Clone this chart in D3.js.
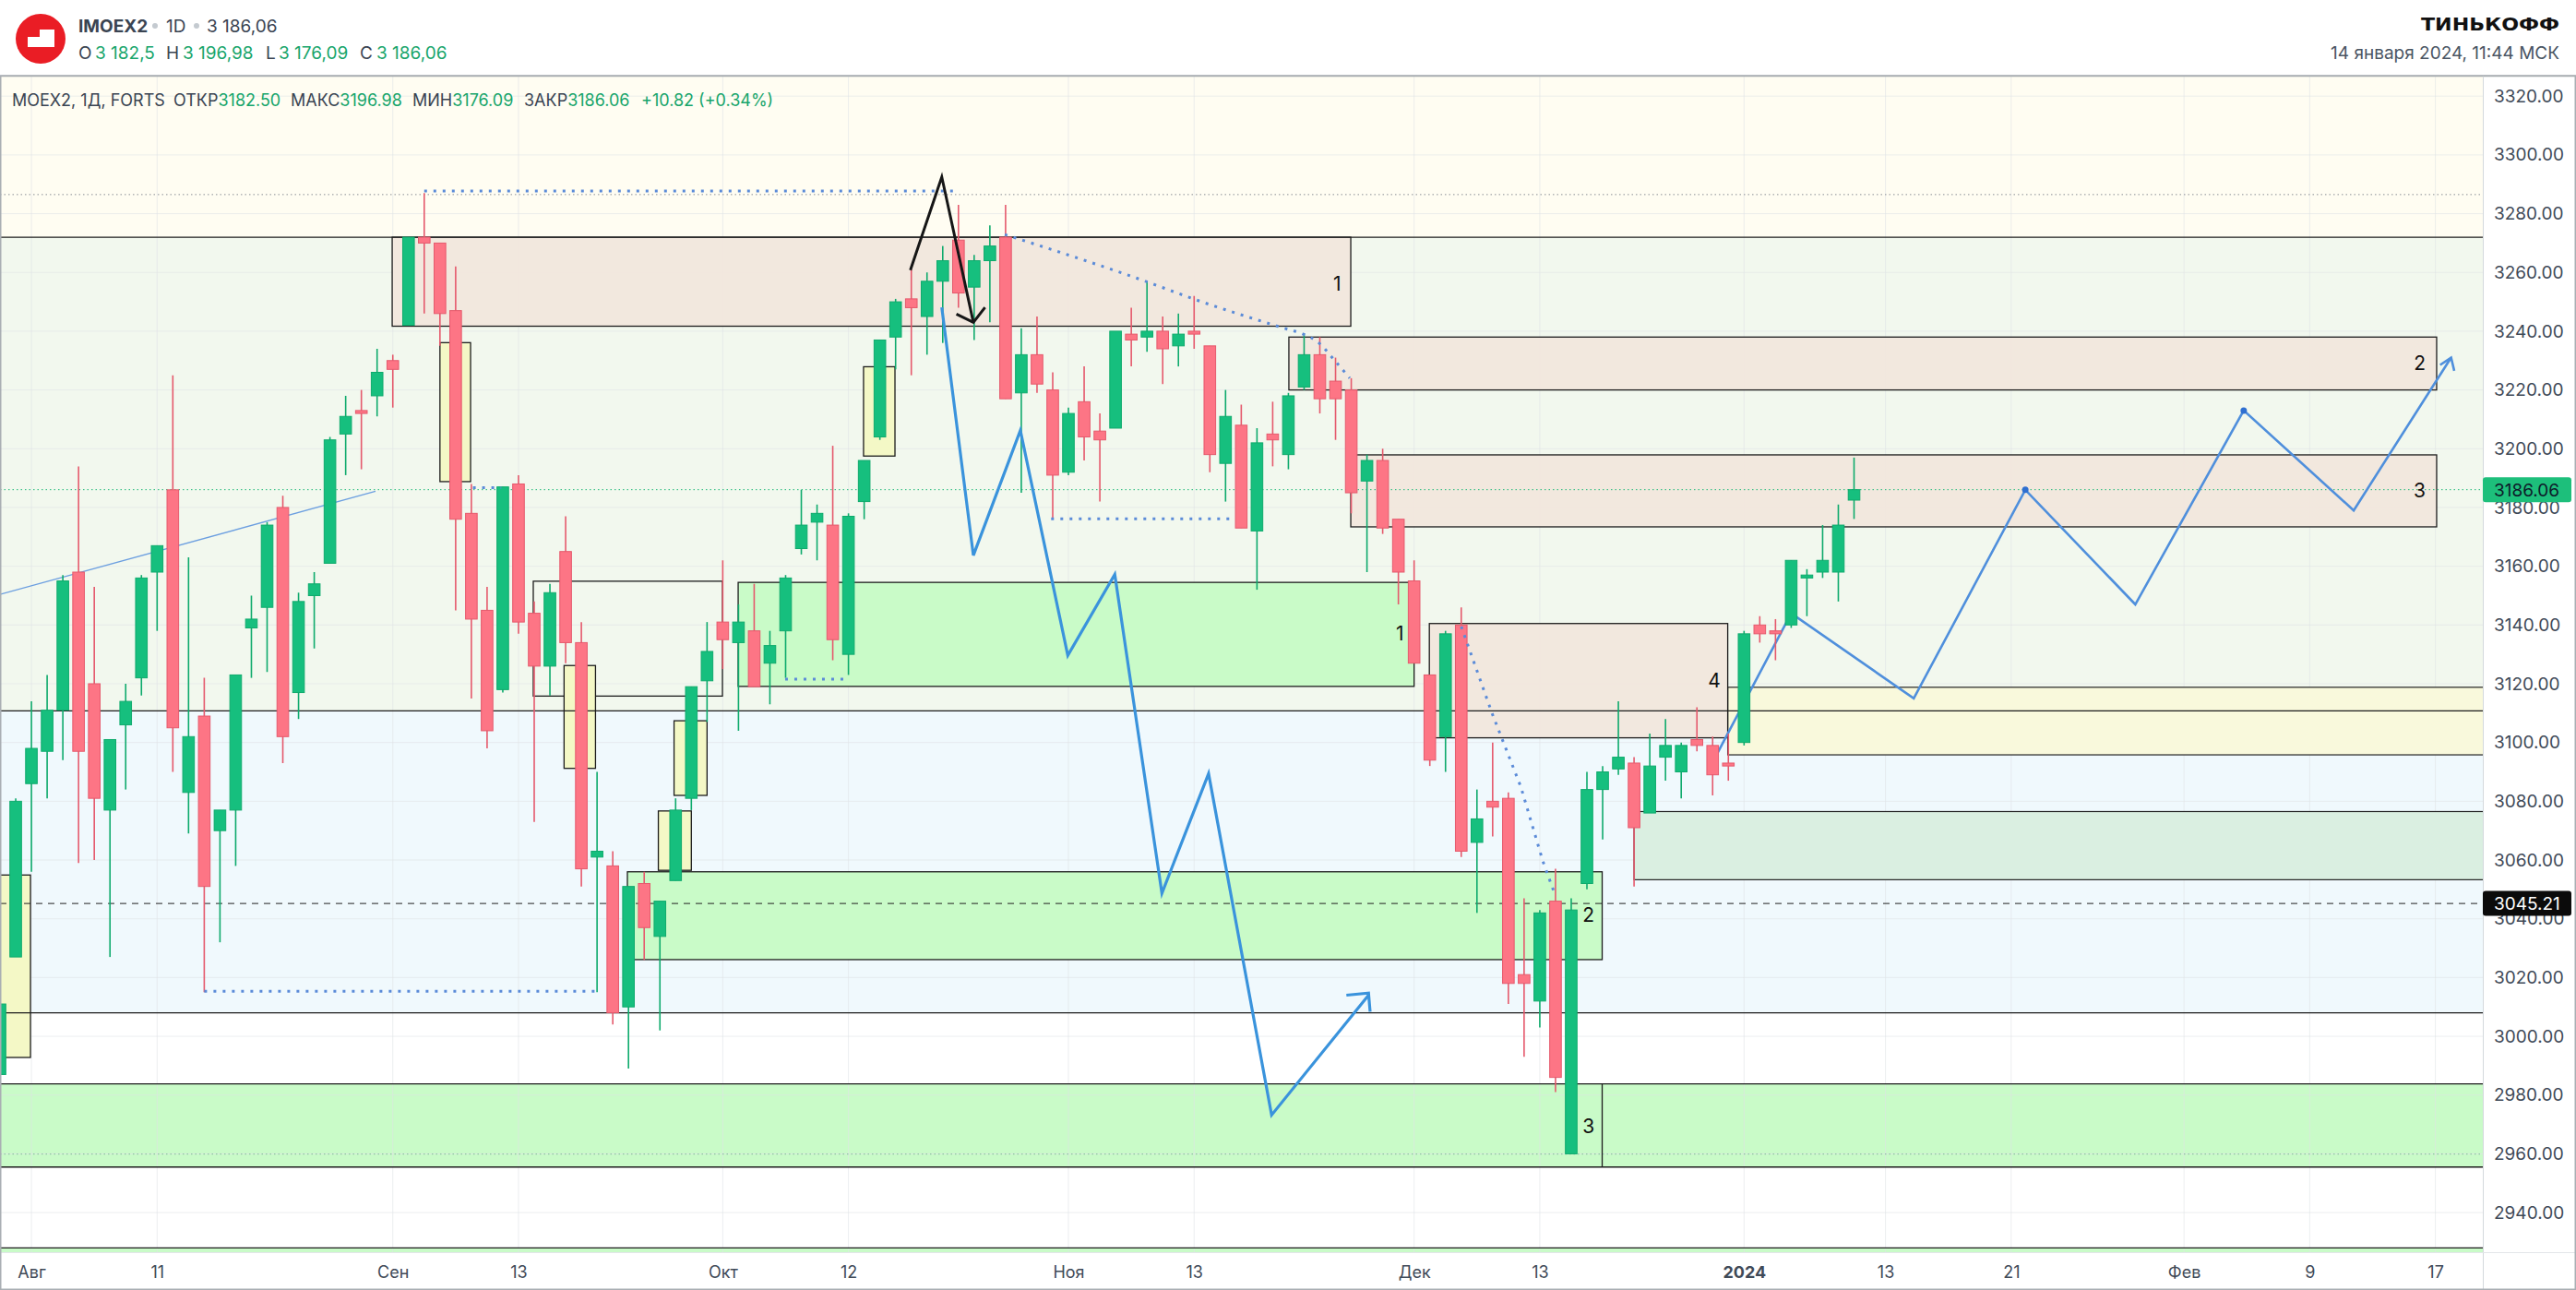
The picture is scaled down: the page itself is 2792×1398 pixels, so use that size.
<!DOCTYPE html>
<html>
<head>
<meta charset="utf-8">
<title>IMOEX2 1D</title>
<script src="https://d3js.org/d3.v7.min.js"></script>
<style>
  body { margin: 0; background: #fff; }
  svg text { font-family: Inter, "Noto Sans", sans-serif; }
</style>
</head>
<body>
<svg id="chart"></svg>
<script>
// daily candles, index 0 = 28 Jul 2023 ... 118 = 12 Jan 2024
const opens = [2987,3027,3086,3097,3111,3158,3120,3077,3106,3122,3158,3186,3083,3109,3070,3077,3139,3146,3180,3117,
  3150,3161,3205,3213,3218,3230,3242,3272,3270,3247,3178,3145,3118,3188,3144,3126,3165,3134,3061,3058,
  3010,3052,3034,3053,3081,3121,3141,3134,3138,3127,3138,3166,3175,3174,3130,3182,3204,3238,3251,3245,
  3257,3271,3255,3264,3272,3219,3232,3220,3192,3216,3206,3207,3239,3238,3240,3235,3240,3235,3195,3208,
  3172,3205,3198,3221,3232,3223,3220,3189,3196,3176,3155,3123,3102,3140,3066,3080,3081,3021,3012,3046,
  2960,3052,3084,3091,3093,3076,3095,3090,3101,3099,3093,3100,3140,3138,3140,3156,3158,3158,3182.5];
const highs = [3013,3081,3114,3123,3157,3194,3153,3101,3120,3157,3167,3225,3163,3122,3077,3123,3150,3175,3184,3151,
  3158,3204,3218,3220,3234,3232,3272,3287,3270,3262,3188,3153,3187,3191,3148,3154,3177,3141,3090,3063,
  3051,3056,3046,3081,3119,3141,3162,3147,3154,3138,3157,3186,3181,3201,3178,3196,3237,3251,3261,3260,
  3269,3283,3266,3276,3283,3241,3245,3226,3214,3228,3212,3240,3248,3257,3245,3246,3252,3235,3220,3215,
  3207,3216,3219,3239,3238,3231,3224,3198,3200,3176,3162,3123,3138,3146,3084,3100,3083,3047,3043,3057,
  3047,3090,3092,3114,3095,3103,3108,3100,3112,3102,3103,3138,3143,3142,3162,3159,3174,3181,3196.98];
const lows = [2984,3027,3056,3081,3094,3059,3060,3027,3084,3116,3138,3090,3069,3015,3032,3058,3122,3124,3093,3108,
  3132,3161,3191,3193,3211,3214,3242,3246,3235,3145,3115,3098,3117,3137,3073,3116,3127,3051,3015,3004,
  2989,3026,3002,3053,3077,3107,3125,3104,3119,3113,3122,3164,3162,3128,3123,3176,3203,3227,3225,3232,
  3236,3248,3237,3243,3217,3185,3219,3176,3191,3196,3182,3207,3228,3233,3222,3228,3234,3192,3182,3173,
  3152,3194,3193,3220,3212,3203,3178,3158,3171,3147,3127,3092,3090,3061,3042,3068,3011,2993,3003,2981,
  2960,3050,3067,3089,3051,3076,3087,3081,3097,3082,3087,3099,3134,3128,3139,3143,3156,3148,3176.09];
const closes = [3011,3080,3098,3111,3155,3097,3081,3101,3114,3156,3167,3105,3102,3051,3077,3123,3142,3174,3102,3148,
  3154,3203,3211,3212,3226,3227,3272,3270,3246,3176,3142,3104,3187,3141,3126,3151,3134,3057,3063,3008,
  3051,3037,3046,3077,3119,3131,3135,3141,3119,3133,3156,3174,3178,3135,3177,3196,3237,3250,3248,3257,
  3264,3253,3264,3269,3217,3232,3222,3191,3212,3204,3203,3240,3237,3240,3234,3239,3239,3198,3211,3173,
  3202,3203,3218,3232,3217,3217,3185,3196,3173,3158,3127,3094,3137,3063,3074,3078,3018,3018,3042,2986,
  3043,3084,3090,3095,3071,3092,3099,3099,3099,3089,3092,3137,3137,3137,3162,3157,3162,3174,3186.06];

// axes
const priceTicks = d3.range(2940, 3321, 20);
const timeTickIdx = [2, 10, 25, 33, 46, 54, 68, 76, 90, 98, 111, 120, 128, 139, 147, 155];
const timeTickLabels = ["Авг","11","Сен","13","Окт","12","Ноя","13","Дек","13","2024","13","21","Фев","9","17"];

// zones: background bands across the whole chart [top, bottom, kind]
const bands = [[3340, 3272, "cream"], [3272, 3110.8, "mint"], [3110.8, 3008, "sky"],
  [3008, 2983.8, "white"], [2983.8, 2955.5, "green"], [2955.5, 2928, "white"], [2928, 2900, "green"]];
const levelLines = [3272, 3110.8, 3008, 2983.8, 2955.5, 2928];
// boxes [idxFrom, idxTo, top, bottom, kind]
const boxes = [
  [24.96, 85.97, 3272, 3241.7, "pink"],
  [82.03, 155.08, 3238, 3220, "pink"],
  [85.97, 155.08, 3197.9, 3173.4, "pink"],
  [46.98, 90.0, 3154.5, 3119.1, "green"],
  [39.93, 101.97, 3056, 3026.1, "green"],
  [90.97, 109.96, 3140.5, 3101.6, "pink"],
  [33.94, 45.98, 3154.9, 3115.8, "open"],
  [-1, 1.94, 3054.9, 2992.8, "yellow"],
  [28.0, 29.95, 3236.1, 3188.8, "yellow"],
  [35.9, 37.9, 3126.2, 3091.2, "yellow"],
  [41.9, 44.0, 3076.7, 3056.5, "yellow"],
  [42.9, 45.0, 3107.4, 3082.0, "yellow"],
  [54.96, 56.96, 3227.9, 3197.5, "yellow"]
];
const rightBands = [[109.96, 160, 3118.8, 3095.8, "paleYellow"], [104.0, 160, 3076.5, 3053.3, "sage"]];
const zoneLabels = [[85.1, 3256, "1"], [154.0, 3229, "2"], [154.0, 3185.6, "3"], [89.1, 3136.8, "1"],
  [101.1, 3041.1, "2"], [101.1, 2969.3, "3"], [109.1, 3120.9, "4"]];

// drawings
const trendLine = [[0, 3150.4], [23.9, 3185.5]];
const dottedLevels = [[27, 60.9, 3287.7], [13, 37.9, 3015.3], [30.1, 31.9, 3186.7], [49.97, 53.9, 3121.6], [66.9, 78.3, 3176.1]];
const dottedSlope1 = [[63.95, 3272.9], [73.0, 3256.8], [75.9, 3251.1], [81.6, 3241.2], [83.0, 3238.9], [83.8, 3236.6], [85.0, 3229.7], [85.9, 3224]];
const dottedSlope2 = [[93.0, 3139.5], [94.95, 3110.1], [96.8, 3084.8], [98.2, 3059.5], [98.9, 3049.2]];
const blackPeak = [[57.94, 3260.8], [59.94, 3292.5], [61.95, 3243.0]];
const blackHead = [[60.87, 3245.8], [61.95, 3243.0], [62.69, 3248.1]];
const zigzagDown = [[59.94, 3248.1], [61.95, 3163.7], [64.94, 3206.2], [67.96, 3129.6], [70.95, 3157.2],
  [73.95, 3048.7], [76.92, 3089.4], [80.93, 2973.2], [87.1, 3014.0]];
const zigzagDownHead = [[85.69, 3014], [87.1, 3014.7], [87.2, 3008.4]];
const projection = [[109.3, 3096.3], [114, 3144], [121.8, 3115], [128.9, 3186], [135.9, 3147],
  [142.8, 3213], [149.8, 3179], [156.0, 3231]];
const projectionDots = [[128.9, 3186], [142.8, 3213]];
const projectionHead = [[155.3, 3228.5], [156.0, 3231], [156.2, 3226.5]];

const lastPrice = 3186.06, markPrice = 3045.21;

const fills = {cream: "#fffdf2", mint: "#f2f8ee", sky: "#f0f9fd", white: "#ffffff", green: "#c9fbc8",
  pink: "#f2e6dc", yellow: "#f4f8c6", open: "none", paleYellow: "#f9f9dc", sage: "#daefe1"};
const up = "#16bf7e", upEdge = "#0eaa6c", down = "#fd7585", downEdge = "#e5596c";
const textColor = "#3a4452", valColor = "#17a56b";

const W = 2792, H = 1398;
const plotRight = 2691, plotTop = 82, plotBottom = 1357;

const svg = d3.select("#chart").attr("width", W).attr("height", H);
svg.append("rect").attr("width", W).attr("height", H).attr("fill", "#fff");

const x = d3.scaleLinear().domain([0, 158]).range([0, 2690.7]);
const y = d3.scaleLinear().domain([3320, 2940]).range([104.2, 1314.1]);

svg.append("clipPath").attr("id", "plot")
  .append("rect").attr("x", 0).attr("y", plotTop).attr("width", plotRight).attr("height", plotBottom - plotTop);
const g = svg.append("g").attr("clip-path", "url(#plot)");

// background bands
g.selectAll("rect.band").data(bands).join("rect")
  .attr("x", 0).attr("width", plotRight)
  .attr("y", d => y(d[0])).attr("height", d => y(d[1]) - y(d[0]))
  .attr("fill", d => fills[d[2]]);

// grid
g.selectAll("line.hgrid").data(priceTicks).join("line")
  .attr("x1", 0).attr("x2", plotRight).attr("y1", d => y(d)).attr("y2", d => y(d))
  .attr("stroke", "#dfe3e6").attr("stroke-opacity", 0.6);
g.selectAll("line.vgrid").data(timeTickIdx).join("line")
  .attr("x1", d => x(d)).attr("x2", d => x(d)).attr("y1", plotTop).attr("y2", plotBottom)
  .attr("stroke", "#dfe3e6").attr("stroke-opacity", 0.6);

// right-side bands
g.selectAll("rect.rb").data(rightBands).join("rect")
  .attr("x", d => x(d[0])).attr("width", d => x(d[1]) - x(d[0]))
  .attr("y", d => y(d[2])).attr("height", d => y(d[3]) - y(d[2]))
  .attr("fill", d => fills[d[4]]).attr("stroke", "#222").attr("stroke-width", 1.2);

// boxes
g.selectAll("rect.box").data(boxes).join("rect")
  .attr("x", d => x(d[0])).attr("width", d => x(d[1]) - x(d[0]))
  .attr("y", d => y(d[2])).attr("height", d => y(d[3]) - y(d[2]))
  .attr("fill", d => fills[d[4]]).attr("fill-opacity", d => d[4] === "pink" ? 0.92 : 1)
  .attr("stroke", "#1c1c1c").attr("stroke-width", 1.3);

// zone level lines
g.selectAll("line.level").data(levelLines).join("line")
  .attr("x1", 0).attr("x2", plotRight).attr("y1", d => y(d)).attr("y2", d => y(d))
  .attr("stroke", "#1c1c1c").attr("stroke-width", 1.3);
g.append("line").attr("x1", x(101.97)).attr("x2", x(101.97)).attr("y1", y(2983.8)).attr("y2", y(2955.5))
  .attr("stroke", "#1c1c1c").attr("stroke-width", 1.3);

// thin dotted levels
g.append("line").attr("x1", 0).attr("x2", plotRight).attr("y1", y(3286.5)).attr("y2", y(3286.5))
  .attr("stroke", "#8a8f96").attr("stroke-dasharray", "1.5,3");
g.append("line").attr("x1", 0).attr("x2", plotRight).attr("y1", y(2959.9)).attr("y2", y(2959.9))
  .attr("stroke", "#7fb39a").attr("stroke-dasharray", "1.5,3");
g.append("line").attr("x1", 0).attr("x2", plotRight).attr("y1", y(lastPrice)).attr("y2", y(lastPrice))
  .attr("stroke", "#1fb877").attr("stroke-dasharray", "1.5,3");
g.append("line").attr("x1", 0).attr("x2", plotRight).attr("y1", y(markPrice)).attr("y2", y(markPrice))
  .attr("stroke", "#222").attr("stroke-dasharray", "7,6");

const line = d3.line().x(d => x(d[0])).y(d => y(d[1]));

// labels inside zones
g.selectAll("text.zl").data(zoneLabels).join("text")
  .attr("x", d => x(d[0])).attr("y", d => y(d[1]) + 7)
  .attr("text-anchor", "middle").attr("font-size", 21).attr("fill", "#111").text(d => d[2]);

// blue projection behind candles
g.append("path").attr("d", line(projection)).attr("fill", "none")
  .attr("stroke", "#4f8fdc").attr("stroke-width", 2.6);
g.append("path").attr("d", line(projectionHead)).attr("fill", "none")
  .attr("stroke", "#4f8fdc").attr("stroke-width", 2.6);
g.selectAll("circle.pd").data(projectionDots).join("circle")
  .attr("cx", d => x(d[0])).attr("cy", d => y(d[1])).attr("r", 3.5).attr("fill", "#2f6fd0");

// thin trend line
g.append("path").attr("d", line(trendLine)).attr("stroke", "#6c9fe0").attr("stroke-width", 1.4).attr("fill", "none");

// candles
const candles = opens.map((o, i) => ({i, o, h: highs[i], l: lows[i], c: closes[i]}));
const cg = g.append("g");
cg.selectAll("line").data(candles).join("line")
  .attr("x1", d => x(d.i)).attr("x2", d => x(d.i))
  .attr("y1", d => y(d.h)).attr("y2", d => y(d.l))
  .attr("stroke", d => d.c >= d.o ? upEdge : downEdge).attr("stroke-width", 1.6);
cg.selectAll("rect").data(candles).join("rect")
  .attr("x", d => x(d.i) - 6.3).attr("width", 12.6)
  .attr("y", d => y(Math.max(d.o, d.c)))
  .attr("height", d => Math.max(2.5, Math.abs(y(d.o) - y(d.c))))
  .attr("fill", d => d.c >= d.o ? up : down)
  .attr("stroke", d => d.c >= d.o ? upEdge : downEdge).attr("stroke-width", 1);

// dotted blue marks
const dotStyle = sel => sel.attr("fill", "none").attr("stroke", "#5b8bd8").attr("stroke-width", 3).attr("stroke-dasharray", "3,7");
g.selectAll("line.dl").data(dottedLevels).join("line")
  .attr("x1", d => x(d[0])).attr("x2", d => x(d[1])).attr("y1", d => y(d[2])).attr("y2", d => y(d[2]))
  .call(dotStyle);
g.append("path").attr("d", d3.line().x(d => x(d[0])).y(d => y(d[1])).curve(d3.curveMonotoneX)(dottedSlope1)).call(dotStyle);
g.append("path").attr("d", line(dottedSlope2)).call(dotStyle);

// black arrow
g.append("path").attr("d", line(blackPeak)).attr("fill", "none").attr("stroke", "#161616").attr("stroke-width", 3);
g.append("path").attr("d", line(blackHead)).attr("fill", "none").attr("stroke", "#161616").attr("stroke-width", 3);

// blue zigzag
g.append("path").attr("d", line(zigzagDown)).attr("fill", "none").attr("stroke", "#3a93dc").attr("stroke-width", 3.2);
g.append("path").attr("d", line(zigzagDownHead)).attr("fill", "none").attr("stroke", "#3a93dc").attr("stroke-width", 3.2);

// chart info line
const info = svg.append("text").attr("x", 13).attr("y", 115).attr("font-size", 18).attr("fill", textColor);
info.append("tspan").text("MOEX2, 1Д, FORTS");
[["ОТКР", "3182.50", 188], ["МАКС", "3196.98", 315], ["МИН", "3176.09", 447], ["ЗАКР", "3186.06", 568]]
  .forEach(([k, v, px]) => {
    const t = svg.append("text").attr("x", px).attr("y", 115).attr("font-size", 18).attr("fill", textColor);
    t.append("tspan").text(k);
    t.append("tspan").attr("fill", valColor).text(v);
  });
svg.append("text").attr("x", 695).attr("y", 115).attr("font-size", 18).attr("fill", valColor).text("+10.82 (+0.34%)");

// frame
svg.append("rect").attr("x", plotRight).attr("y", plotTop).attr("width", W - plotRight).attr("height", plotBottom - plotTop).attr("fill", "#fff");
svg.append("line").attr("x1", 0).attr("x2", W).attr("y1", plotTop + 0.5).attr("y2", plotTop + 0.5).attr("stroke", "#a9aeb3").attr("stroke-width", 1.5);
svg.append("line").attr("x1", plotRight + 0.5).attr("x2", plotRight + 0.5).attr("y1", plotTop).attr("y2", H).attr("stroke", "#d4d8dc");
svg.append("line").attr("x1", 0).attr("x2", W).attr("y1", plotBottom + 0.5).attr("y2", plotBottom + 0.5).attr("stroke", "#e3e6e9");
svg.append("rect").attr("x", 0.75).attr("y", plotTop).attr("width", W - 1.5).attr("height", H - plotTop - 0.75)
  .attr("fill", "none").attr("stroke", "#a9aeb3").attr("stroke-width", 1.5);

// price axis
const yAxis = svg.append("g").attr("transform", `translate(${plotRight},0)`)
  .call(d3.axisRight(y).tickValues(priceTicks).tickSize(0).tickPadding(12).tickFormat(d3.format(".2f")));
yAxis.select(".domain").remove();
yAxis.selectAll("text").attr("font-size", 19).attr("fill", "#3f4a58").style("font-family", "Inter, sans-serif");

// price tags
[[lastPrice, "#1dbf7b", "#0d1b2a"], [markPrice, "#0b0b0b", "#ffffff"]].forEach(([p, bg, fg]) => {
  svg.append("rect").attr("x", plotRight).attr("y", y(p) - 13.5).attr("width", 96).attr("height", 27).attr("rx", 3).attr("fill", bg);
  svg.append("text").attr("x", plotRight + 12).attr("y", y(p) + 7).attr("font-size", 19).attr("fill", fg).text(p.toFixed(2));
});

// time axis
const xAxis = svg.append("g").attr("transform", `translate(0,${plotBottom})`)
  .call(d3.axisBottom(x).tickValues(timeTickIdx).tickSize(0).tickPadding(15).tickFormat((d, i) => timeTickLabels[i]));
xAxis.select(".domain").remove();
xAxis.selectAll("text").attr("font-size", 18).attr("fill", "#3f4a58").style("font-family", "Inter, sans-serif")
  .attr("font-weight", (d, i) => timeTickLabels[i] === "2024" ? 700 : 400);

// header
svg.append("circle").attr("cx", 44).attr("cy", 42).attr("r", 27).attr("fill", "#ea1d25");
svg.append("path").attr("d", "M30,40 H43 V32 H59 V51 H30 Z").attr("fill", "#fff");
const h1 = svg.append("text").attr("x", 85).attr("y", 35).attr("font-size", 19).attr("fill", textColor);
h1.append("tspan").attr("font-weight", 700).text("IMOEX2");
svg.append("circle").attr("cx", 168).attr("cy", 28).attr("r", 3).attr("fill", "#c4cad0");
svg.append("text").attr("x", 180).attr("y", 35).attr("font-size", 19).attr("fill", textColor).text("1D");
svg.append("circle").attr("cx", 213).attr("cy", 28).attr("r", 3).attr("fill", "#c4cad0");
svg.append("text").attr("x", 224).attr("y", 35).attr("font-size", 19).attr("fill", textColor).text("3 186,06");
[["O", "3 182,5", 85, 103], ["H", "3 196,98", 180, 198], ["L", "3 176,09", 288, 302], ["C", "3 186,06", 390, 408]]
  .forEach(([k, v, kx, vx]) => {
    svg.append("text").attr("x", kx).attr("y", 64).attr("font-size", 19).attr("fill", textColor).text(k);
    svg.append("text").attr("x", vx).attr("y", 64).attr("font-size", 19).attr("fill", valColor).text(v);
  });
svg.append("text").attr("x", 2774).attr("y", 33).attr("text-anchor", "end").attr("font-size", 19)
  .attr("font-weight", 900).style("font-family", "'DejaVu Sans', sans-serif").attr("fill", "#111")
  .attr("textLength", 150).attr("lengthAdjust", "spacingAndGlyphs").text("ТИНЬКОФФ");
svg.append("text").attr("x", 2774).attr("y", 64).attr("text-anchor", "end").attr("font-size", 19)
  .attr("fill", "#4a5563").text("14 января 2024, 11:44 МСК");
</script>
</body>
</html>
